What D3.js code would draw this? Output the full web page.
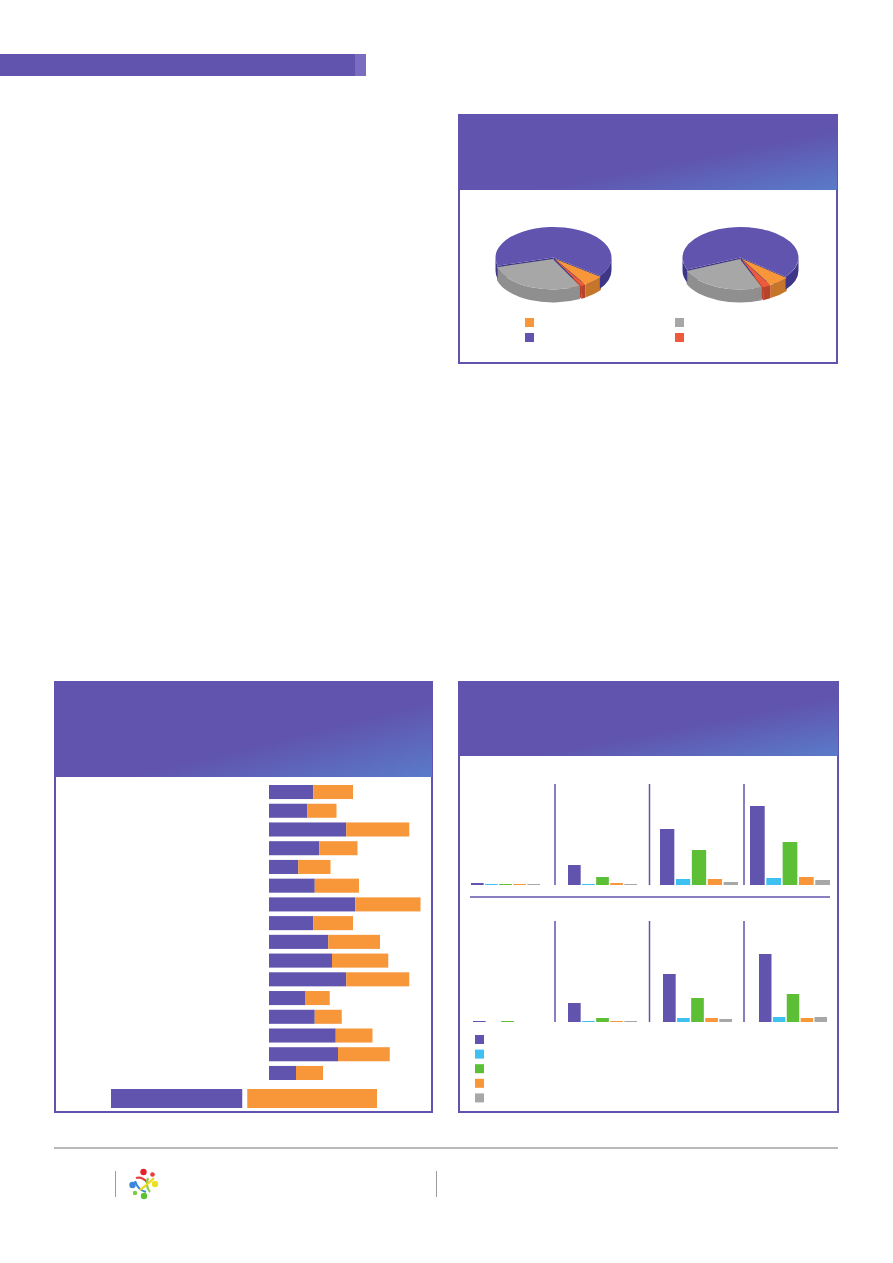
<!DOCTYPE html>
<html>
<head>
<meta charset="utf-8">
<script src="https://cdn.jsdelivr.net/npm/d3@7"></script>
<style>
  body { margin: 0; background: #fff; }
  svg { display: block; }
</style>
</head>
<body>
<div id="chart"></div>
<script>
// colours
const PURPLE = '#6054ae';
const ORANGE = '#f7973a';
const GRAY = '#a7a7a7';
const RED = '#ee5a3c';
const CYAN = '#3ec1f0';
const GREEN = '#5dbf35';

// pie data (share, %) - order: orange, red, gray, purple
const pieColors = [ORANGE, RED, GRAY, PURPLE];
const pieWalls = ['#c6762a', '#b8432a', '#8f8f8f', '#3e3788'];
const pieLeftValues = [5.8, 1.2, 28.4, 64.6];
const pieRightValues = [5.8, 2.2, 24.7, 67.3];
const pieLegend = [ORANGE, PURPLE, GRAY, RED];

// stacked bars (left panel)
const barPurple = [29.5, 25.5, 51.5, 33.5, 19.5, 30.5, 57.5, 29.5, 39.5, 42, 51.5, 24, 30.5, 44.5, 46, 18];
const barOrange = [26.5, 19.5, 42, 25.5, 21.5, 29.5, 43.5, 26.5, 34.5, 37.5, 42, 16.5, 18, 24.5, 34.5, 18];
const totalBar = [87.5, 86.5];

// grouped bars (right panel), 4 groups x 5 series
const seriesColors = [PURPLE, CYAN, GREEN, ORANGE, GRAY];
const groupTop = [[2, 1, 1, 1, 1], [20, 1, 8, 2, 1], [56, 6, 35, 6, 3], [79, 7, 43, 8, 5]];
const groupBottom = [[1, 0, 1, 0, 0], [19, 1, 4, 1, 1], [48, 4, 24, 4, 3], [68, 5, 28, 4, 5]];

const svg = d3.select('#chart').append('svg').attr('width', 893).attr('height', 1263);

const defs = svg.append('defs');
let grad = defs.append('linearGradient').attr('id', 'hdr')
  .attr('x1', 0).attr('y1', 0).attr('x2', 1).attr('y2', 1);
grad.append('stop').attr('offset', 0).attr('stop-color', PURPLE);
grad.append('stop').attr('offset', 0.6).attr('stop-color', PURPLE);
grad.append('stop').attr('offset', 1).attr('stop-color', '#5a7bc9');
defs.append('filter').attr('id', 'soft').append('feGaussianBlur').attr('stdDeviation', 0.7);

// top title bar
svg.append('rect').attr('x', 0).attr('y', 54).attr('width', 355).attr('height', 22).attr('fill', PURPLE);
svg.append('rect').attr('x', 355).attr('y', 54).attr('width', 11).attr('height', 22).attr('fill', '#7a6cc0');

function panel(x, y, w, h, headH) {
  svg.append('rect').attr('x', x).attr('y', y).attr('width', w).attr('height', h)
    .attr('fill', '#fff').attr('stroke', PURPLE).attr('stroke-width', 2);
  svg.append('rect').attr('x', x).attr('y', y).attr('width', w).attr('height', headH)
    .attr('fill', 'url(#hdr)');
}

panel(459, 115, 378, 248, 75);
panel(55, 682, 377, 430, 95);
panel(459, 682, 379, 430, 74);

// ---------- 3D pies ----------
function drawPie(cx, cy, values, startDeg) {
  const rx = 58, ry = 30.5, depth = 13;
  const g = svg.append('g');
  const start = startDeg * Math.PI / 180;
  const arcs = d3.pie().sort(null).startAngle(start).endAngle(start + 2 * Math.PI)(values);
  const slices = arcs.map((a, i) => {
    const t0 = a.startAngle - Math.PI / 2, t1 = a.endAngle - Math.PI / 2;
    const tm = (t0 + t1) / 2;
    const ex = i === 3 ? 0 : 1.6;
    return { i, t0, t1, ox: cx + ex * Math.cos(tm), oy: cy + ex * Math.sin(tm) };
  });
  const pt = (s, t, dz) => [s.ox + rx * Math.cos(t), s.oy + ry * Math.sin(t) + dz];

  // radial faces
  slices.forEach(s => {
    [[s.t0, Math.cos(s.t0) < 0], [s.t1, Math.cos(s.t1) > 0]].forEach(([t, vis]) => {
      if (!vis) return;
      const a = pt(s, t, 0), b = pt(s, t, depth);
      g.append('path')
        .attr('d', `M${s.ox},${s.oy}L${a}L${b}L${s.ox},${s.oy + depth}Z`)
        .attr('fill', pieWalls[s.i]);
    });
  });
  // outer walls (front half only)
  slices.forEach(s => {
    for (let k = -1; k <= 2; k++) {
      const lo = Math.max(s.t0, 2 * Math.PI * k), hi = Math.min(s.t1, 2 * Math.PI * k + Math.PI);
      if (hi <= lo) continue;
      g.append('path')
        .attr('d', `M${pt(s, lo, 0)}A${rx},${ry} 0 0 1 ${pt(s, hi, 0)}L${pt(s, hi, depth)}A${rx},${ry} 0 0 0 ${pt(s, lo, depth)}Z`)
        .attr('fill', pieWalls[s.i]);
    }
  });
  // top faces
  slices.forEach(s => {
    const large = (s.t1 - s.t0) > Math.PI ? 1 : 0;
    g.append('path')
      .attr('d', `M${s.ox},${s.oy}L${pt(s, s.t0, 0)}A${rx},${ry} 0 ${large} 1 ${pt(s, s.t1, 0)}Z`)
      .attr('fill', pieColors[s.i]);
  });
}

drawPie(553.5, 257.5, pieLeftValues, 127);
drawPie(740.5, 257.5, pieRightValues, 129);

svg.append('g').selectAll('rect').data(pieLegend).join('rect')
  .attr('x', (d, i) => i < 2 ? 525 : 675)
  .attr('y', (d, i) => 318 + (i % 2) * 15)
  .attr('width', 9).attr('height', 9)
  .attr('fill', d => d);

// ---------- stacked horizontal bars ----------
const xBar = d3.scaleLinear().domain([0, 100]).range([0, 150]);
const yBar = d3.scaleBand().domain(d3.range(barPurple.length)).range([785, 1080]).paddingInner(0.25);
const x0 = 269;

const bars = svg.append('g');
bars.selectAll('rect.p').data(barPurple).join('rect').attr('class', 'p')
  .attr('x', x0).attr('y', (d, i) => yBar(i))
  .attr('width', d => xBar(d)).attr('height', yBar.bandwidth())
  .attr('fill', PURPLE);
bars.selectAll('rect.o').data(barOrange).join('rect').attr('class', 'o')
  .attr('x', (d, i) => x0 + xBar(barPurple[i])).attr('y', (d, i) => yBar(i))
  .attr('width', d => xBar(d)).attr('height', yBar.bandwidth())
  .attr('fill', ORANGE);

svg.append('rect').attr('x', 111).attr('y', 1089).attr('width', xBar(totalBar[0])).attr('height', 19).attr('fill', PURPLE);
svg.append('rect').attr('x', 111 + xBar(totalBar[0]) + 5).attr('y', 1089).attr('width', xBar(totalBar[1])).attr('height', 19).attr('fill', ORANGE);

// ---------- grouped bars ----------
const yGrp = d3.scaleLinear().domain([0, 100]).range([0, 100]);
const topSpans = [[471, 540], [568, 637], [660, 738], [750, 830]];
const bottomSpans = [[473, 542], [568, 637], [663, 732], [759, 827]];

function drawGroups(data, spans, base, lineTop) {
  const g = svg.append('g');
  data.forEach((vals, gi) => {
    const xb = d3.scaleBand().domain(d3.range(vals.length)).range(spans[gi]).paddingInner(0.1);
    g.selectAll(null).data(vals).join('rect')
      .attr('x', (d, i) => xb(i)).attr('y', d => base - yGrp(d))
      .attr('width', xb.bandwidth()).attr('height', d => yGrp(d))
      .attr('fill', (d, i) => seriesColors[i]);
  });
  [555, 649.5, 744].forEach(x => {
    g.append('line').attr('x1', x).attr('x2', x).attr('y1', lineTop).attr('y2', base)
      .attr('stroke', PURPLE).attr('stroke-width', 1.5);
  });
}

drawGroups(groupTop, topSpans, 885, 784);
drawGroups(groupBottom, bottomSpans, 1022, 921);
svg.append('line').attr('x1', 470).attr('x2', 830).attr('y1', 897).attr('y2', 897)
  .attr('stroke', PURPLE).attr('stroke-width', 1.5);

svg.append('g').selectAll('rect').data(seriesColors).join('rect')
  .attr('x', 475).attr('y', (d, i) => 1035 + i * 14.6)
  .attr('width', 9).attr('height', 9).attr('fill', d => d);

// ---------- footer ----------
svg.append('line').attr('x1', 54).attr('x2', 838).attr('y1', 1148).attr('y2', 1148)
  .attr('stroke', '#a3a3a3').attr('stroke-width', 1.5);
[115.5, 436.5].forEach(x => {
  svg.append('line').attr('x1', x).attr('x2', x).attr('y1', 1171).attr('y2', 1197)
    .attr('stroke', '#9a9a9a').attr('stroke-width', 1);
});

const logo = svg.append('g').attr('filter', 'url(#soft)');
[
  ['M136,1178 Q142,1176 148,1183', '#e84040'],
  ['M135,1181 Q138,1190 146,1192', '#3a8ad8'],
  ['M148,1178 Q145,1186 150,1192', '#8bcf40'],
  ['M140,1190 Q147,1185 154,1178', '#f0d820']
].forEach(([d, c]) => {
  logo.append('path').attr('d', d).attr('fill', 'none').attr('stroke', c).attr('stroke-width', 2.2);
});
[
  [143.5, 1172, 3.2, '#e8202a'],
  [152.5, 1174.5, 2.3, '#e83a3a'],
  [132.5, 1185, 3.2, '#3a86d6'],
  [144, 1196, 3.2, '#5cc030'],
  [155, 1184, 3.2, '#ece020'],
  [135, 1193, 2.2, '#7acc40']
].forEach(([x, y, r, c]) => {
  logo.append('circle').attr('cx', x).attr('cy', y).attr('r', r).attr('fill', c);
});
</script>
</body>
</html>
